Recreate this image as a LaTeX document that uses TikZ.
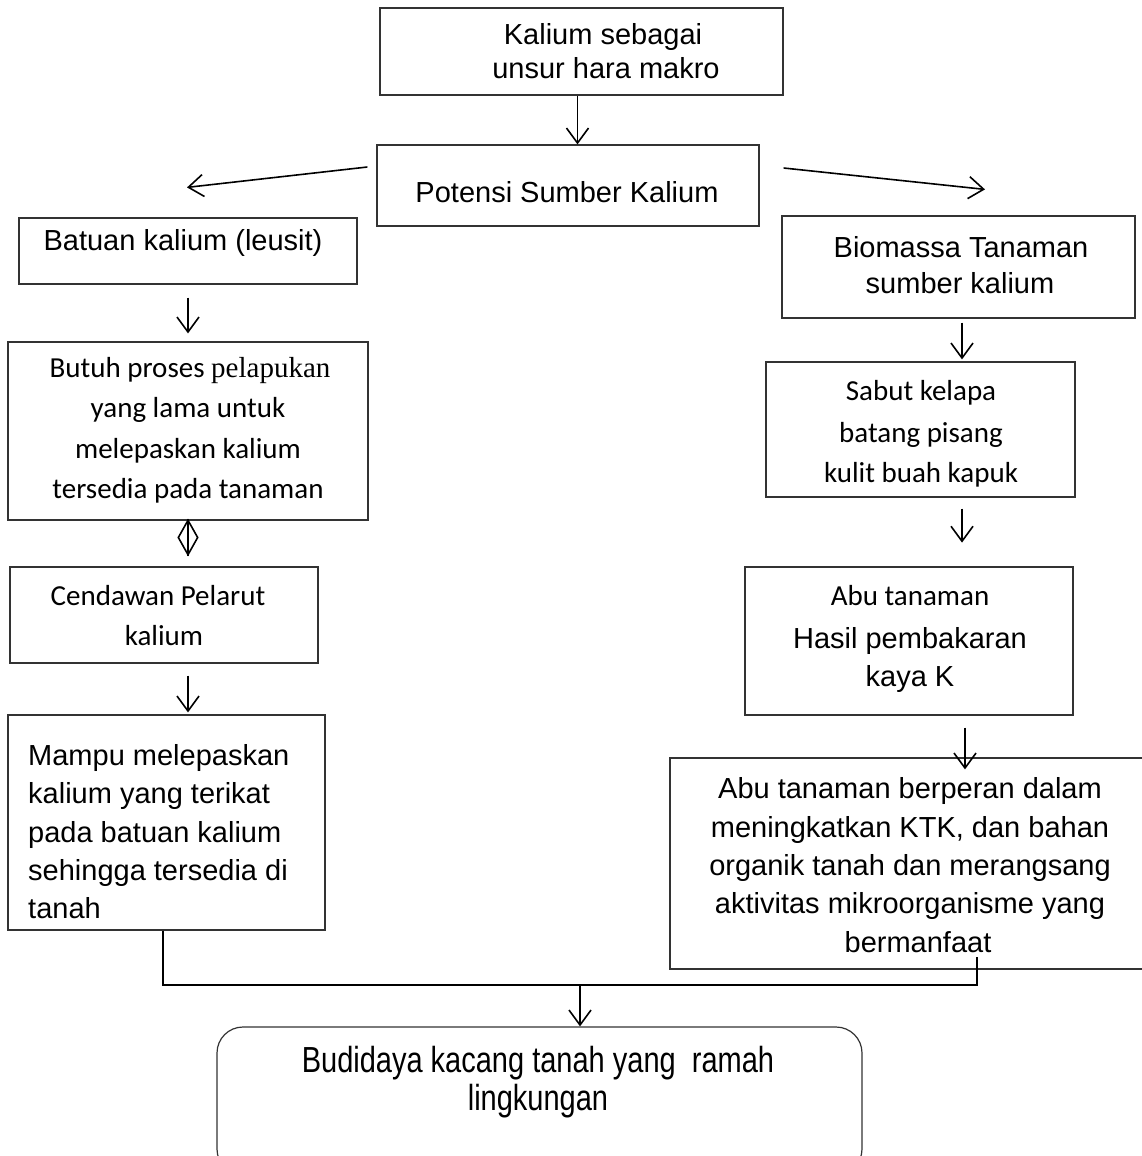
\documentclass[tikz,border=0pt]{standalone}
\usepackage{fontspec}
\setmainfont{Liberation Sans}
\newfontfamily\calfnt{Carlito}
\newfontfamily\serfnt{Liberation Serif}
\usetikzlibrary{arrows.meta,shapes.geometric}
\newcommand\mkbox[6][]{\node[box,#1,minimum width={#4pt-#2pt},minimum height={#6pt-#3pt}] (#5) at ({(#2+#4)/2},{(#3+#6)/2}) {};}
\begin{document}
\begin{tikzpicture}[x=1pt,y=-1pt,
  box/.style={draw=black!80,line width=1.2pt,inner sep=0pt,rectangle},
  arr/.style={line width=1.6pt,-{Straight Barb[length=15pt,width=22pt,line width=1.6pt]}},
  ln/.style={line width=1.4pt},
  txt/.style={anchor=base,inner sep=0pt,font=\fontsize{29}{34}\selectfont},
  ltxt/.style={txt,anchor=base west},
  ctxt/.style={anchor=base,inner sep=0pt,font=\calfnt\fontsize{29}{34}\selectfont}]
\fill[white] (0,0) rectangle (1142,1156);
\useasboundingbox (0,0) rectangle (1142,1156);
% boxes
\mkbox{380}{8}{783}{top}{95}
\mkbox{377}{145}{759}{pot}{226}
\mkbox{19}{218}{357}{bat}{284}
\mkbox{782}{216}{1135}{bio}{318}
\mkbox{8}{342}{368}{but}{520}
\mkbox{10}{567}{318}{cend}{663}
\mkbox{8}{715}{325}{mam}{930}
\mkbox{766}{362}{1075}{sab}{497}
\mkbox{745}{567}{1073}{abu}{715}
\mkbox{670}{758}{1170}{abe}{969}
\mkbox[rounded corners=26pt]{217}{1027}{862}{bud}{1175}
% texts
\node[txt] (t1) at (603,45) {Kalium sebagai};
\node[txt] (t2) at (606,78) {unsur hara makro};
\node[txt] (t3) at (567,202) {Potensi Sumber Kalium};
\node[txt] (t4) at (183,250) {Batuan kalium (leusit)};
\node[txt] (t5) at (961,257) {Biomassa Tanaman};
\node[txt] (t6) at (960,293) {sumber kalium};
\node[ctxt] (t7) at (190,377) {Butuh proses {\serfnt pelapukan}};
\node[ctxt] (t8) at (188,417) {yang lama untuk};
\node[ctxt] (t9) at (188,458) {melepaskan kalium};
\node[ctxt] (t10) at (188,498) {tersedia pada tanaman};
\node[ctxt] (t11) at (158,605) {Cendawan Pelarut};
\node[ctxt] (t12) at (164,645) {kalium};
\node[ltxt] (t13) at (28,765) {Mampu melepaskan};
\node[ltxt] (t14) at (28,803) {kalium yang terikat};
\node[ltxt] (t15) at (28,842) {pada batuan kalium};
\node[ltxt] (t16) at (28,880) {sehingga tersedia di};
\node[ltxt] (t17) at (28,918) {tanah};
\node[ctxt] (t18) at (921,400) {Sabut kelapa};
\node[ctxt] (t19) at (921,442) {batang pisang};
\node[ctxt] (t20) at (921,482) {kulit buah kapuk};
\node[ctxt] (t21) at (910,605) {Abu tanaman};
\node[txt] (t22) at (910,648) {Hasil pembakaran};
\node[txt] (t23) at (910,686) {kaya K};
\node[txt] (t24) at (910,798) {Abu tanaman berperan dalam};
\node[txt] (t25) at (910,837) {meningkatkan KTK, dan bahan};
\node[txt] (t26) at (910,875) {organik tanah dan merangsang};
\node[txt] (t27) at (910,913) {aktivitas mikroorganisme yang};
\node[txt] (t28) at (918,952) {bermanfaat};
\node[txt,yscale=1.25] (t29) at (538,1072) {Budidaya kacang tanah yang\ \ ramah};
\node[txt,yscale=1.25] (t30) at (538,1110) {lingkungan};
% connectors
\draw[arr] ([xshift=-4pt]top.south) -- ([xshift=-4pt]top.south |- pot.north);
\draw[arr] ([shift={(-9,-18.5)}]pot.west) -- ([shift={(-1,-30)}]bat.north);
\draw[arr] ([shift={(24,-17.5)}]pot.east) -- ([shift={(26.5,-26)}]bio.north);
\draw[arr] ([shift={(0,13)}]bat.south) -- ([shift={(0,-8)}]but.north);
\node[draw,line width=1.6pt,diamond,inner sep=0pt,minimum width=20pt,minimum height=35pt] (dia) at (188,537.5) {};
\draw[line width=1.6pt] (dia.north) -- (dia.south);
\draw[arr] ([shift={(24,12)}]cend.south) -- ([shift={(21.5,-2)}]mam.north);
\draw[arr] ([shift={(3.5,4)}]bio.south) -- ([shift={(3.5,-2)}]bio.south |- sab.north);
\draw[arr] ([shift={(41.5,11)}]sab.south) -- ++(0,34);
\draw[arr] ([shift={(56,12)}]abu.south) -- ([shift={(56,12)}]abu.south |- abe.north);
\coordinate (jn) at (580,985);
\coordinate (rt) at (977,957);
\draw[ln] ([xshift=-3.5pt]mam.south) |- (jn) -| (rt);
\draw[arr] (jn) -- (jn |- bud.north);
\end{tikzpicture}
\end{document}
